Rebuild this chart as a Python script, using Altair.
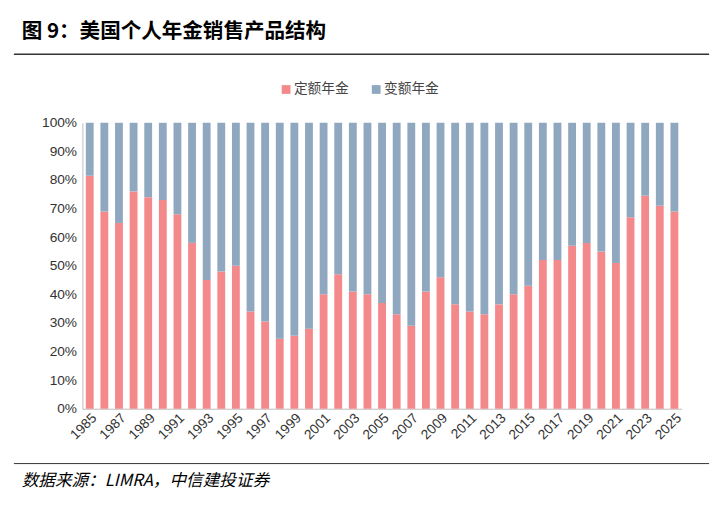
import altair as alt
import pandas as pd

years = list(range(1985, 2026))
fixed = [81.5, 69, 65, 76, 74, 73, 68, 58, 45, 48, 50, 34, 30.5, 24.5, 25.5, 28,
         40, 47, 41, 40, 37, 33, 29, 41, 46, 36.5, 34, 33, 36.5, 40, 43, 52, 52,
         57, 58, 55, 51, 67, 74.5, 71, 69]
series = ["定额年金", "变额年金"]
colors = ["#F4898B", "#8FA8BF"]

rows = []
for y, f in zip(years, fixed):
    rows.append({"year": str(y), "type": series[0], "v": f / 100, "o": 0})
    rows.append({"year": str(y), "type": series[1], "v": 1 - f / 100, "o": 1})
df = pd.DataFrame(rows)

font = "Noto Sans CJK SC"

bars = (
    alt.Chart(df)
    .mark_bar(size=8)
    .encode(
        alt.X("year:N")
        .title(None)
        .axis(labelAngle=-45, labelExpr="(+datum.value - 1985) % 2 == 0 ? datum.value : ''",
              ticks=False, domainColor="#bbbbbb", labelFontSize=14, labelColor="#333",
              labelFont="Arial"),
        alt.Y("v:Q")
        .title(None)
        .stack("zero")
        .scale(domain=[0, 1])
        .axis(format=".0%", values=[i / 10 for i in range(11)], grid=False,
              domainColor="#bbbbbb", ticks=False, labelFontSize=14, labelColor="#333",
              labelFont="Arial", labelPadding=6),
        alt.Color("type:N").scale(domain=series, range=colors).legend(None),
        alt.Order("o:Q"),
    )
    .properties(width=612, height=292)
)

header = alt.layer(
    alt.Chart().mark_text(align="left", baseline="middle", fontSize=21, fontWeight="bold", font=font)
    .encode(x=alt.value(-62), y=alt.value(14), text=alt.datum("图 9：美国个人年金销售产品结构")),
    alt.Chart().mark_rule(color="#333", strokeWidth=1.5)
    .encode(x=alt.value(-70), x2=alt.value(640), y=alt.value(37)),
    # legend
    alt.Chart().mark_square(size=80, opacity=1)
    .encode(x=alt.value(208), y=alt.value(73), color=alt.value(colors[0])),
    alt.Chart().mark_text(align="left", baseline="middle", fontSize=14, font=font, color="#444")
    .encode(x=alt.value(216), y=alt.value(73), text=alt.datum(series[0])),
    alt.Chart().mark_square(size=80, opacity=1)
    .encode(x=alt.value(300), y=alt.value(73), color=alt.value(colors[1])),
    alt.Chart().mark_text(align="left", baseline="middle", fontSize=14, font=font, color="#444")
    .encode(x=alt.value(308), y=alt.value(73), text=alt.datum(series[1])),
).properties(width=612, height=100)

footer = alt.layer(
    alt.Chart().mark_rule(color="#333", strokeWidth=1)
    .encode(x=alt.value(-70), x2=alt.value(640), y=alt.value(22)),
    alt.Chart().mark_text(align="left", baseline="middle", fontSize=17, fontStyle="italic", font=font)
    .encode(x=alt.value(-62), y=alt.value(40), text=alt.datum("数据来源：LIMRA，中信建投证券")),
).properties(width=612, height=50)

chart = (
    alt.vconcat(header, bars, footer, spacing=0)
    .configure_view(stroke=None)
    .configure_concat(spacing=0)
)
chart.save("out.html", embed_options={"renderer": "svg", "actions": False})
